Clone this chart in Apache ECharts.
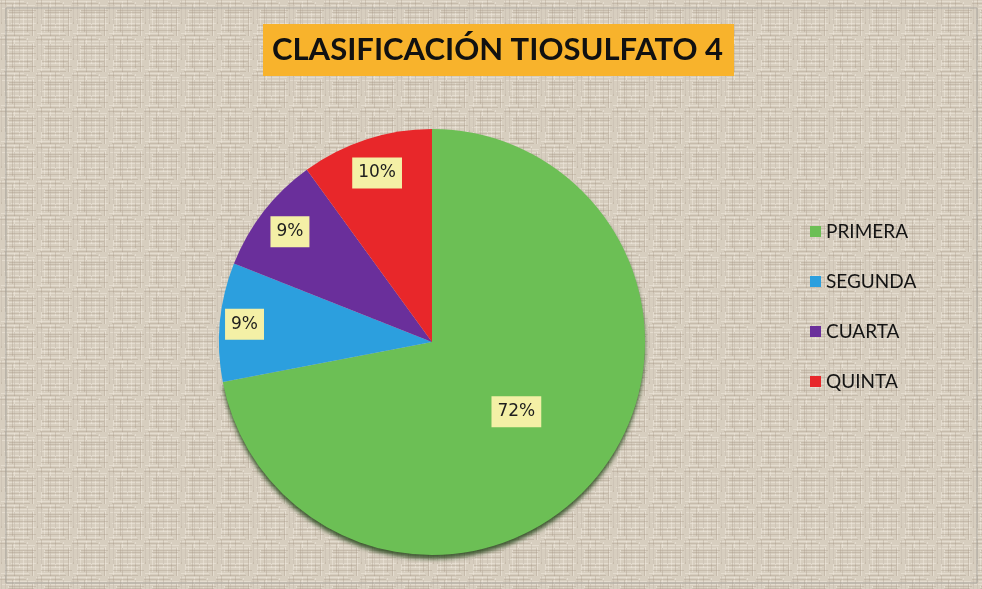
<!DOCTYPE html>
<html>
<head>
<meta charset="utf-8">
<script src="https://cdn.jsdelivr.net/npm/echarts@6/dist/echarts.min.js"></script>
<style>
html, body { margin: 0; padding: 0; background: #fff; }
#chart { width: 982px; height: 589px; }
</style>
</head>
<body>
<div id="chart"></div>
<script>
// datos del gráfico
var categorias = ['PRIMERA', 'SEGUNDA', 'CUARTA', 'QUINTA'];
var porcentajes = [72, 9, 9, 10];
var colores = ['#6cbf55', '#2c9fde', '#6a2f9b', '#e8272a'];

// fondo tipo lino (patrón fijo, sin aleatorios)
function texturaLino() {
  var c = document.createElement('canvas');
  c.width = 36; c.height = 36;
  var ctx = c.getContext('2d');
  ctx.fillStyle = '#d7cebf';
  ctx.fillRect(0, 0, 36, 36);
  var claros = [1, 5, 8, 14, 19, 23, 27, 33];
  var oscuros = [3, 10, 12, 17, 25, 30, 35];
  ctx.fillStyle = 'rgba(238,232,220,0.55)';
  claros.forEach(function (p, k) {
    ctx.fillRect((k * 7) % 12, p, 24 + (k % 3) * 4, 1);
    ctx.fillRect(p, (k * 5) % 14, 1, 22 + (k % 2) * 8);
  });
  ctx.fillStyle = 'rgba(165,152,134,0.35)';
  oscuros.forEach(function (p, k) {
    ctx.fillRect((k * 9) % 10, p, 26 + (k % 2) * 6, 1);
    ctx.fillRect((p + 2) % 36, (k * 4) % 12, 1, 24 + (k % 3) * 4);
  });
  return c;
}

var chart = echarts.init(document.getElementById('chart'));

var centro = [432, 342];
var radio = 213;
// distancia relativa de cada etiqueta al centro
var posEtiqueta = [0.5, 0.87, 0.83, 0.82];

var total = porcentajes.reduce(function (a, b) { return a + b; }, 0);
var acumulado = 0;
var datos = categorias.map(function (nombre, i) {
  var medio = (acumulado + porcentajes[i] / 2) / total * 360;
  acumulado += porcentajes[i];
  var ang = (90 - medio) * Math.PI / 180;
  var extra = (posEtiqueta[i] - 0.5) * radio;
  var estilo = { color: colores[i] };
  if (i === 0) {
    // sombra solo en el borde inferior
    estilo.shadowBlur = 4;
    estilo.shadowOffsetY = 4;
    estilo.shadowColor = 'rgba(25,60,15,0.8)';
  }
  return {
    name: nombre,
    value: porcentajes[i],
    itemStyle: estilo,
    label: { offset: [extra * Math.cos(ang), -extra * Math.sin(ang)] }
  };
});

var option = {
  backgroundColor: { image: texturaLino(), repeat: 'repeat' },
  title: {
    text: 'CLASIFICACIÓN TIOSULFATO 4',
    left: 263,
    top: 24,
    backgroundColor: '#f8b32c',
    padding: [10, 11, 11, 9],
    textStyle: {
      fontFamily: 'Lato',
      fontWeight: 'bold',
      fontSize: 31,
      color: '#111'
    }
  },
  legend: {
    orient: 'vertical',
    left: 805,
    top: 217,
    itemWidth: 11,
    itemHeight: 11,
    itemGap: 31,
    icon: 'rect',
    textStyle: {
      fontFamily: 'Lato',
      fontSize: 19,
      lineHeight: 19,
      color: '#141414'
    },
    data: categorias
  },
  graphic: [{
    type: 'rect',
    shape: { x: 6, y: 8, width: 971, height: 575 },
    style: { fill: 'none', stroke: '#a8a49c', lineWidth: 1 },
    silent: true
  }],
  series: [{
    type: 'pie',
    center: centro,
    radius: radio,
    startAngle: 90,
    clockwise: true,
    animation: false,
    itemStyle: { borderWidth: 0 },
    label: {
      show: true,
      position: 'inside',
      formatter: '{d}%',
      fontFamily: 'DejaVu Sans',
      fontSize: 17,
      color: '#1e1e1e',
      backgroundColor: '#f4f0a6',
      padding: [7, 6]
    },
    labelLine: { show: false },
    emphasis: { disabled: true },
    data: datos
  }]
};

chart.setOption(option);
</script>
</body>
</html>
